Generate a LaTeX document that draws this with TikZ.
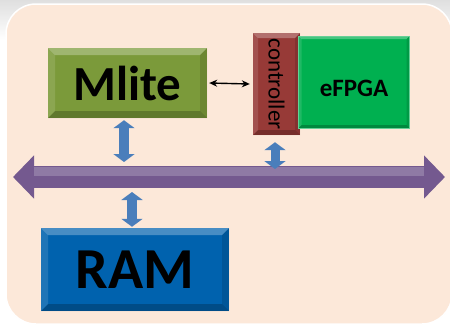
\documentclass[tikz,border=0pt]{standalone}
\usepackage{fontspec}
\setmainfont{Carlito}
\usetikzlibrary{arrows.meta}

\definecolor{peach}{HTML}{FCE8D9}
\definecolor{olive}{HTML}{7B9A3A}
\definecolor{brick}{HTML}{973A37}
\definecolor{fpga}{HTML}{00B050}
\definecolor{ramblue}{HTML}{0062AE}
\definecolor{buspurple}{HTML}{74598F}
\definecolor{linkblue}{HTML}{4A7EBB}

\tikzset{
  bevel/.style={path picture={
    \fill[white,opacity=.28] (path picture bounding box.north west) -- (path picture bounding box.north east)
      -- ([shift={(-#1,-#1)}]path picture bounding box.north east) -- ([shift={(#1,-#1)}]path picture bounding box.north west) -- cycle;
    \fill[white,opacity=.12] (path picture bounding box.north west) -- (path picture bounding box.south west)
      -- ([shift={(#1,#1)}]path picture bounding box.south west) -- ([shift={(#1,-#1)}]path picture bounding box.north west) -- cycle;
    \fill[black,opacity=.22] (path picture bounding box.south west) -- (path picture bounding box.south east)
      -- ([shift={(-#1,#1)}]path picture bounding box.south east) -- ([shift={(#1,#1)}]path picture bounding box.south west) -- cycle;
    \fill[black,opacity=.12] (path picture bounding box.north east) -- (path picture bounding box.south east)
      -- ([shift={(-#1,#1)}]path picture bounding box.south east) -- ([shift={(-#1,-#1)}]path picture bounding box.north east) -- cycle;
  }},
  block/.style={inner sep=0pt, font=\bfseries, text=black, bevel=7pt},
  link/.style={linkblue, line width=10pt,
    {Triangle[width=21pt,length=8pt]}-{Triangle[width=21pt,length=8pt]}}
}

\begin{document}
\begin{tikzpicture}[x=1pt,y=-1pt]
  \useasboundingbox (0,0) rectangle (450,325);

  % Background panel
  \shade[top color=gray!25, bottom color=white] (0,0) rectangle (450,40);
  \fill[white] (0,40) rectangle (450,325);
  \fill[peach, draw=white, line width=1.5pt, rounded corners=30pt] (6,4) rectangle (452,324);

  % Blocks
  \node[block, fill=olive, minimum width=159pt, minimum height=70pt, font=\fontsize{49}{49}\bfseries]
    (mlite) at (127.5,83) {Mlite};
  \node[block, fill=brick, minimum width=47pt, minimum height=102pt, bevel=5pt]
    (ctrl) at (276.5,84) {};
  \node[rotate=-90, font=\fontsize{23}{23}\selectfont] (ctrltext) at (ctrl) {controller};
  \node[block, fill=fpga, draw=fpga!60!white, line width=1pt, minimum width=111pt, minimum height=92pt,
    font=\fontsize{25}{25}\bfseries, bevel=3pt, text height=28pt, text depth=0pt] (efpga) at (354,82) {eFPGA};
  \node[block, fill=ramblue, minimum width=188pt, minimum height=83pt, font=\fontsize{58}{58}\bfseries]
    (ram) at (135,269.5) {RAM};

  % Bus
  \coordinate (busL) at (13,177);
  \coordinate (busR) at (445,177);
  \draw[buspurple, line width=22pt, {Triangle[width=42pt,length=21pt]}-{Triangle[width=42pt,length=21pt]}]
    (busL) -- (busR);
  \draw[white, opacity=.2, line width=9pt] ([xshift=21pt,yshift=5.5pt]busL) -- ([xshift=-21pt,yshift=5.5pt]busR);

  % Links
  \draw[{Stealth[length=8pt,width=7pt]}-{Stealth[length=8pt,width=7pt]}, line width=1.4pt]
    ([xshift=2pt]mlite.east) -- ([xshift=-3pt]ctrl.west);
  \draw[link] ([xshift=-3.5pt,yshift=-2pt]mlite.south) -- ([xshift=-3.5pt,yshift=15pt]mlite.south |- busL);
  \draw[link, line width=9pt] ([xshift=-1.5pt,yshift=-7pt]ctrl.south) -- ([xshift=-1.5pt,yshift=8pt]ctrl.south |- busL);
  \draw[link] ([xshift=-3pt,yshift=1pt]ram.north) -- ([xshift=-3pt,yshift=-15pt]ram.north |- busL);
\end{tikzpicture}
\end{document}
